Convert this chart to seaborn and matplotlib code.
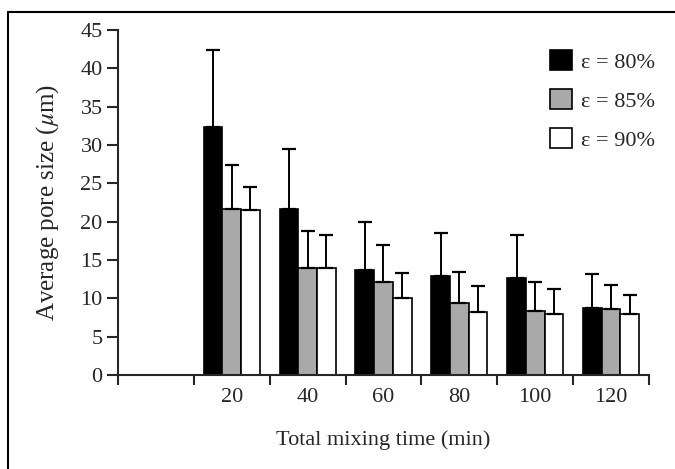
import numpy as np
import pandas as pd
import matplotlib
matplotlib.use("Agg")
import matplotlib.pyplot as plt
import seaborn as sns
from matplotlib.patches import Patch
from matplotlib.lines import Line2D

# mixing time categories (first slot on the axis is left empty)
times = ["20", "40", "60", "80", "100", "120"]
slots = [""] + times
porosity = ["ε = 80%", "ε = 85%", "ε = 90%"]

# average pore size (um)
mean_80 = [32.4, 21.7, 13.7, 12.9, 12.6, 8.7]
mean_85 = [21.7, 13.9, 12.1, 9.4, 8.4, 8.6]
mean_90 = [21.5, 13.9, 10.1, 8.2, 8.0, 7.9]

# top of the error bars
top_80 = [42.4, 29.5, 20.0, 18.5, 18.2, 13.2]
top_85 = [27.4, 18.8, 17.0, 13.5, 12.1, 11.8]
top_90 = [24.5, 18.3, 13.3, 11.6, 11.2, 10.5]

colors = ["#000000", "#a9a9a9", "#ffffff"]

means = [mean_80, mean_85, mean_90]
tops = [top_80, top_85, top_90]

df = pd.DataFrame({
    "time": times * 3,
    "eps": np.repeat(porosity, len(times)),
    "size": mean_80 + mean_85 + mean_90,
})

sns.set_style("ticks")
plt.rcParams["font.family"] = ["Liberation Serif", "DejaVu Serif"]
plt.rcParams["mathtext.fontset"] = "stix"

fig = plt.figure(figsize=(6.75, 4.69), dpi=100)
ax = fig.add_axes([118 / 675, 94 / 469, 531 / 675, 345 / 469])

sns.barplot(data=df, x="time", y="size", hue="eps", order=slots,
            hue_order=porosity, palette=colors, width=0.74,
            edgecolor="black", linewidth=1.2, errorbar=None,
            legend=False, ax=ax)

# upper-only error bars
for cont, m, t in zip(ax.containers, means, tops):
    xs = [b.get_x() + b.get_width() / 2 for b in cont]
    err = np.array(t) - np.array(m)
    ax.errorbar(xs, m, yerr=[np.zeros(len(err)), err], fmt="none",
                ecolor="black", elinewidth=1.4, capsize=5, capthick=1.6,
                zorder=1)

ax.set_xlim(-0.5, len(slots) - 0.5)
ax.set_ylim(0, 45)
ax.set_yticks(np.arange(0, 46, 5))
ax.set_xticks(np.arange(-0.5, len(slots), 1.0))
ax.set_xticklabels([])
ax.set_xticks(np.arange(1, len(slots)), minor=True)
ax.set_xticklabels(times, minor=True)
ax.tick_params(axis="x", which="major", length=7, width=1.5, direction="out")
ax.tick_params(axis="x", which="minor", length=0, labelsize=16, pad=9)
ax.tick_params(axis="y", length=8, width=1.5, labelsize=16, pad=3)

for s in ["top", "right"]:
    ax.spines[s].set_visible(False)
for s in ["left", "bottom"]:
    ax.spines[s].set_linewidth(1.5)

ax.set_xlabel("Total mixing time (min)", fontsize=16, labelpad=17)
ax.set_ylabel(r"Average pore size ($\mu$m)", fontsize=18, labelpad=14)

handles = [Patch(facecolor=c, edgecolor="black", linewidth=1.2) for c in colors]
fig.legend(handles, porosity, loc="upper left",
           bbox_to_anchor=(550 / 675, 1 - 50 / 469), frameon=False,
           borderpad=0, borderaxespad=0, fontsize=16, handlelength=1.0,
           handleheight=1.0, handletextpad=0.4, labelspacing=0.75)

# frame of the scanned figure (left and top edges)
fig.add_artist(Line2D([8 / 675, 8 / 675], [0, 1 - 12 / 469],
                      color="black", lw=1.5, transform=fig.transFigure))
fig.add_artist(Line2D([8 / 675, 1], [1 - 12 / 469, 1 - 12 / 469],
                      color="black", lw=1.5, transform=fig.transFigure))

fig.savefig("out.png", dpi=100)
